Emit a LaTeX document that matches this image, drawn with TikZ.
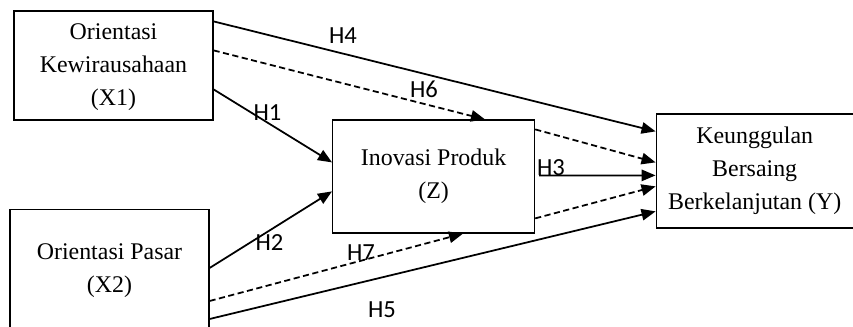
\documentclass[tikz,border=0pt]{standalone}
\usepackage{fontspec}
\setmainfont{Liberation Serif}
\newfontfamily\hlabelfont{Carlito}
\usepackage{tikz}
\usetikzlibrary{arrows.meta,calc}

\begin{document}
\begin{tikzpicture}[x=0.02cm,y=-0.02cm]

\tikzstyle{block} = [draw, text centered, align=center, draw=black, line width=0.7pt, fill=white, inner sep=0pt, font=\fontsize{13.6}{18.8}\selectfont]
\tikzstyle{path arrow} = [-{Triangle[length=8pt,width=6.5pt]}, line width=1pt, black]
\tikzstyle{indirect arrow} = [path arrow, dash pattern=on 3.5pt off 2pt]
\tikzstyle{hlabel} = [font=\hlabelfont\fontsize{14}{16}\selectfont, inner sep=0pt]

\useasboundingbox (0,0) rectangle (853,327);

\coordinate (origin) at (0,0);

%Exogenous variables: left

\path (origin)+(113.5,65.5) node (x1) [block, minimum width=3.98cm, minimum height=2.18cm] {\raisebox{-5pt}{\begin{tabular}{c}Orientasi\\Kewirausahaan\\(X1)\end{tabular}}};

\path (x1.south)+(-4,150) node (x2) [block, minimum width=3.98cm, minimum height=2.44cm] {Orientasi Pasar\\(X2)};

%Mediator: middle

\path (x1.east)+(220,111) node (z) [block, minimum width=4.04cm, minimum height=2.26cm] {Inovasi Produk\\(Z)};

%Endogenous variable: right

\path (z.east)+(219.5,-5.5) node (y) [block, minimum width=3.94cm, minimum height=2.28cm] {Keunggulan\\Bersaing\\Berkelanjutan (Y)};

%Arrows

\draw [path arrow] ($(x1.north east)+(0,11)$) -- ($(y.north west)+(0,18)$);
\draw [indirect arrow] ($(x1.north east)+(0,40)$) -- ($(z.north west)+(153,0)$);
\draw [path arrow] ($(x1.north east)+(0,79)$) -- ($(z.north west)+(0,43)$);

\draw [path arrow] ($(x2.north east)+(0,59)$) -- ($(z.north west)+(0,72)$);
\draw [indirect arrow] ($(x2.north east)+(0,92)$) -- ($(z.south west)+(131,0)$);
\draw [path arrow] ($(x2.north east)+(0,110)$) -- ($(y.north west)+(0,98)$);

\draw [indirect arrow] ($(z.north east)+(0,10)$) -- ($(y.north west)+(0,49)$);
\draw [path arrow] ($(z.north east)+(4,56)$) -- ($(y.north west)+(0,62)$);
\draw [indirect arrow] ($(z.north east)+(0,99)$) -- ($(y.north west)+(0,73)$);

%Hypothesis labels

\path (origin)+(343,36) node (h4) [hlabel] {H4};
\path (origin)+(424,89) node (h6) [hlabel] {H6};
\path (origin)+(267.5,113) node (h1) [hlabel] {H1};
\path (origin)+(551,167.5) node (h3) [hlabel] {H3};
\path (origin)+(269.5,243) node (h2) [hlabel] {H2};
\path (origin)+(361,253) node (h7) [hlabel] {H7};
\path (origin)+(382,310) node (h5) [hlabel] {H5};

\end{tikzpicture}
\end{document}
